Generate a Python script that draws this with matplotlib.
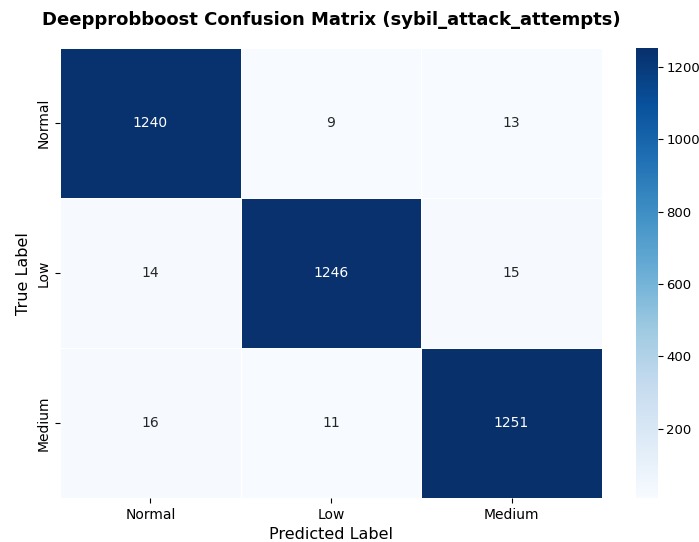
import numpy as np
import matplotlib
matplotlib.use('Agg')
import matplotlib.pyplot as plt
import seaborn as sns

# class names and confusion counts (rows = true, cols = predicted)
labels = ['Normal', 'Low', 'Medium']
row_normal = [1240, 9, 13]
row_low = [14, 1246, 15]
row_medium = [16, 11, 1251]

cm = np.array([row_normal, row_low, row_medium])

fig = plt.figure(figsize=(6.99, 5.42), dpi=100)
ax = fig.add_axes([0.086, 0.081, 0.775, 0.83])
cax = fig.add_axes([0.91, 0.081, 0.032, 0.83])

sns.heatmap(cm, annot=True, fmt='d', cmap='Blues', ax=ax, cbar_ax=cax,
            xticklabels=labels, yticklabels=labels,
            linewidths=0.5, linecolor='white',
            annot_kws={'fontsize': 10})

ax.set_title('Deepprobboost Confusion Matrix (sybil_attack_attempts)',
             fontsize=13, fontweight='bold', pad=17)
ax.set_xlabel('Predicted Label', fontsize=11.5)
ax.set_ylabel('True Label', fontsize=11.5)
ax.tick_params(labelsize=10)
cax.tick_params(labelsize=9.5, pad=2)

fig.savefig('out.png', dpi=100)
